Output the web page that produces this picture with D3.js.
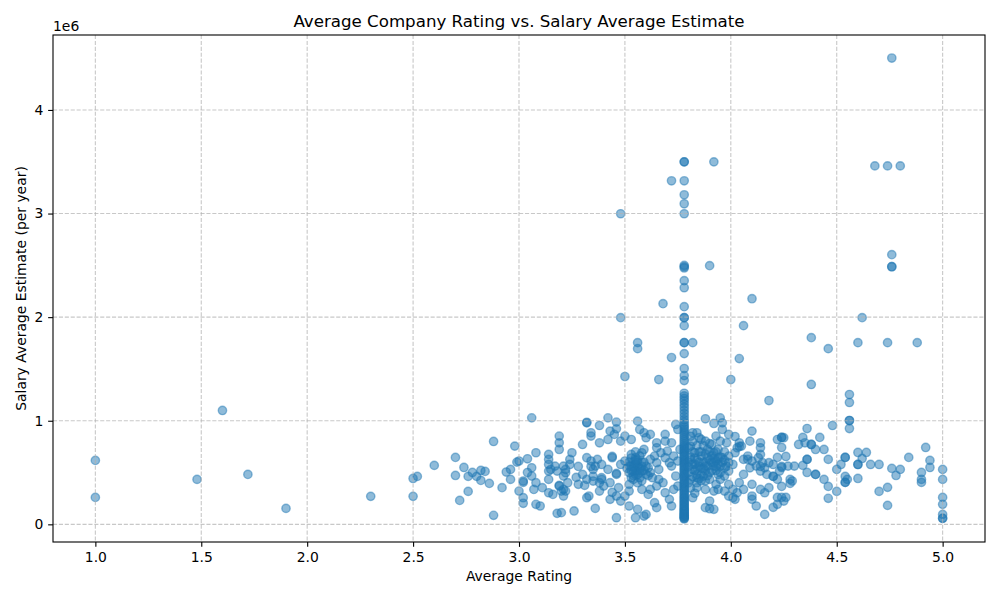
<!DOCTYPE html>
<html><head><meta charset="utf-8">
<script src="https://cdn.jsdelivr.net/npm/d3@7"></script>
<style>
body{margin:0;background:#fff;}
text{font-family:"DejaVu Sans",sans-serif;fill:#000;}
</style>
</head><body>
<svg id="chart" width="1000" height="600"></svg>
<script>
// ---- Data: [average rating, salary estimate in thousands per year] ----
const lowRatingPoints = [
[1.00,617],[1.00,260],[1.48,434],[1.60,1099],[1.72,482],[1.90,154],[2.30,270],[2.50,443],[2.52,463],[2.50,270],
[2.60,569],[2.70,646],[2.70,472],[2.72,231],[2.74,549],[2.76,463],[2.76,318],[2.78,501],[2.80,463],[2.82,520],
[2.82,424],[2.84,511],[2.86,395],[2.88,800],[2.88,87],[2.92,354],[2.94,505]
];
const earlyThreePoints = [
[2.96,530],[2.96,434],[2.98,755],[2.99,601],[3.00,611],[3.00,321],[3.02,418],[3.02,257],[3.02,203],[3.04,633],
[3.06,1028],[3.06,546],[3.06,466],[3.07,337],[3.08,691],[3.08,402],[3.08,193],[3.10,177],[3.11,354],[3.14,675],
[3.14,627],[3.14,578],[3.15,530],[3.17,562],[3.18,514],[3.14,514],[3.14,434],[3.14,305],[3.16,289],[3.18,106],
[3.19,376],[3.19,852],[3.19,787],[3.19,723],[3.20,321],[3.22,321],[3.21,562],[3.22,498],[3.02,405],[3.04,500]
];
const midRatingPoints = [
[3.32,980],[3.32,985],[3.38,954],[3.42,1028],[3.46,987],[3.56,996],[3.46,922],[3.34,884],[3.34,852],[3.38,787],
[3.43,900],[3.45,868],[3.48,803],[3.50,852],[3.53,819],[3.57,916],[3.59,884],[3.60,836],[3.62,868],[3.65,787],
[3.69,868],[3.69,803],[3.72,787],[3.74,964],[3.75,916],
[3.25,691],[3.24,627],[3.24,578],[3.22,530],[3.21,466],[3.19,370],[3.21,273],[3.20,113],
[3.30,771],[3.32,643],[3.34,611],[3.35,530],[3.36,562],[3.32,434],[3.33,273],[3.32,257],[3.26,129],[3.28,386],[3.30,482],
[3.39,578],[3.42,530],[3.44,643],[3.46,482],[3.39,450],[3.40,370],[3.38,321],[3.43,402],[3.47,354],[3.48,578],
[3.50,611],[3.52,562],[3.54,514],[3.53,675],[3.55,643],[3.58,691],[3.59,723],[3.56,562],[3.58,514],[3.60,482],
[3.61,546],[3.62,627],[3.64,659],[3.65,595],[3.66,530],[3.66,434],[3.68,402],[3.65,370],[3.62,337],[3.61,289],
[3.58,337],[3.56,402],[3.54,434],[3.52,386],[3.52,321],[3.50,273],[3.48,225],[3.46,273],[3.43,241],[3.52,177],
[3.56,145],[3.60,96],[3.59,80],[3.65,161],[3.64,209],[3.69,305],[3.71,241],[3.72,177],[3.73,337],[3.75,370],
[3.74,466],[3.72,562],[3.71,595],[3.69,643],[3.67,691],[3.65,739],[3.70,707],[3.73,659],[3.75,611],[3.76,723],
[3.38,402],[3.35,418],[3.23,402],[3.21,337],[3.46,64],[3.55,64],
[3.34,559],[3.35,463],[3.36,154],[3.44,308],[3.46,492],[3.42,819],[3.44,655],[3.39,434],[3.37,627],[3.31,376],
[3.28,559],[3.27,453],
[3.52,600],[3.53,560],[3.54,600],[3.55,520],[3.56,480],[3.57,450],[3.58,600],[3.55,700],[3.53,450],[3.57,540],
[3.60,560],[3.62,500],[3.63,450],[3.58,420],[3.54,470],[3.56,620],[3.59,520],[3.61,470],[3.52,500],[3.55,580],
[3.53,640],[3.57,660],[3.51,540],[3.56,520],
[3.54,560],[3.55,480],[3.56,600],[3.57,500],[3.58,560],[3.53,520],[3.55,620],[3.59,600]
];
const imputedRatingSalaries = [
52,58,65,72,80,88,96,105,115,125,135,145,155,168,180,192,205,218,230,245,258,270,285,300,315,330,345,360,375,390,
405,420,435,450,465,480,495,510,525,540,555,570,585,600,615,630,645,660,675,690,705,720,735,750,765,780,800,820,840,860,
880,900,920,940,960,985,1010,1040,1070,1100,1130,1160,1190,1215,1240,1265,
1388,1436,1504,1648,1754,1754,1918,1995,1995,2101,2284,2352,2475,2487,2500,2998,3094,3181,3316,3499,3499
];
const imputedRating = 3.78;
const upperRatingPoints = [
[3.88,1019],[3.92,974],[3.95,1028],[3.96,980],[3.96,916],[3.99,868],
[3.82,884],[3.84,884],[3.85,836],[3.88,803],[3.91,771],[3.93,852],[3.95,803],[3.98,787],
[4.04,787],[4.05,755],[4.09,803],[4.10,900],[4.14,787],[4.14,739],[4.14,675],[4.03,739],
[3.81,755],[3.83,691],[3.86,659],[3.89,723],[3.92,691],[3.94,723],[3.96,643],[3.99,659],[4.01,578],[3.99,514],
[3.97,466],[3.95,498],[3.92,562],[3.88,595],[3.85,562],[3.82,530],[3.81,434],[3.84,402],[3.87,466],[3.90,434],
[3.93,386],[3.95,434],[3.99,386],[4.01,337],[4.04,402],[4.06,482],[4.08,627],[4.10,611],[4.12,562],[4.14,514],
[4.16,546],[4.17,482],[4.18,354],[4.16,305],[4.14,337],[4.10,386],[4.10,273],[4.12,177],[4.16,96],[4.06,337],
[4.03,305],[4.01,257],[3.99,273],[3.97,321],[3.94,337],[3.92,321],[3.88,337],[3.84,354],[3.82,257],[3.90,225],
[3.88,161],[3.92,145],[3.90,151],[4.10,241],
[4.06,627],[4.08,659],[4.02,691],[3.99,595],[3.97,546],[3.93,611],[3.88,514],[3.84,482],[4.09,546],[4.13,643],
[4.15,595],[4.18,595],[4.04,752],[4.14,559],[4.02,241],[4.02,848],
[3.80,600],[3.81,650],[3.82,700],[3.83,580],[3.84,620],[3.85,700],[3.86,540],[3.87,600],[3.88,680],[3.89,560],
[3.90,620],[3.91,520],[3.92,640],[3.93,700],[3.94,580],[3.95,650],[3.80,500],[3.82,460],[3.83,520],[3.85,440],
[3.86,480],[3.88,420],[3.89,470],[3.91,600],[3.93,520],[3.95,560],[3.80,400],[3.81,350],[3.83,300],[3.80,740],
[3.82,800],[3.84,760],[3.86,820],[3.81,850],
[3.80,560],[3.81,620],[3.82,580],[3.83,640],[3.84,540],[3.85,600],[3.86,700],[3.87,540],[3.88,560],[3.89,640],
[3.90,700],[3.91,660],[3.92,600],[3.93,560],[3.94,640],[3.96,600],[3.97,700],[3.98,560],[3.84,450],[3.86,420],
[3.90,500],[3.94,480],[3.97,620],[3.87,760],[3.90,780]
];
const highRatingPoints = [
[4.25,225],[4.22,193],[4.27,562],[4.29,418],[4.23,514],[4.30,562],[4.35,787],[4.25,836],
[4.92,742],[4.94,617],[4.94,549],[5.00,530],[5.00,434],[5.00,260],[5.00,193],[5.00,96],[5.00,58],[5.00,58],
[4.90,501],[4.90,434],[4.90,405],[4.84,646],[4.80,530],[4.78,472],[4.76,540],[4.74,357],[4.74,183],[4.70,578],
[4.70,318],[4.66,578],[4.64,694],[4.60,694],[4.60,578],[4.60,578],[4.62,636],[4.60,443],[4.54,646],[4.54,646],
[4.54,463],[4.54,405],[4.54,405],[4.55,434],[4.52,578],[4.50,530],[4.50,318],[4.46,251],[4.46,366],[4.44,434],
[4.46,627],[4.44,723],[4.42,839],[4.40,482],[4.40,482],[4.36,925],[4.34,839],[4.38,771],[4.38,771],[4.40,723],
[4.36,627],[4.36,627],[4.32,771],[4.34,569],[4.36,501],[4.28,434],[4.28,395],[4.26,655],[4.24,839],[4.24,839],
[4.24,742],[4.22,819],[4.22,646],[4.24,560],[4.24,549],[4.20,578],[4.20,463],[4.20,463],[4.22,434],[4.24,366],
[4.22,260],[4.24,260],[4.26,260],[4.20,164]
];
const outlierPoints = [
[3.92,3499],[3.72,3316],[3.48,2998],[3.90,2497],[3.68,2130],[4.10,2178],[3.48,1995],[4.06,1918],[4.38,1802],
[3.56,1754],[3.56,1696],[3.82,1754],[3.72,1610],[4.04,1600],[3.50,1427],[3.66,1398],[4.00,1398],[4.38,1350],
[4.76,4501],[4.68,3460],[4.74,3460],[4.80,3460],[4.76,2603],[4.76,2487],[4.76,2487],[4.62,1995],[4.46,1696],
[4.60,1754],[4.74,1754],[4.88,1754],[4.56,1253],[4.56,1176],[4.56,1002],[4.56,1002],[4.56,925],[4.48,954],[4.18,1195]
];
const xTickValues = [1.0,1.5,2.0,2.5,3.0,3.5,4.0,4.5,5.0];
const yTickValues = [0,1000,2000,3000,4000];
const yTickLabels = ["0","1","2","3","4"];
const titleText = "Average Company Rating vs. Salary Average Estimate";
const xLabelText = "Average Rating";
const yLabelText = "Salary Average Estimate (per year)";
const offsetText = "1e6";

// ---- Build ----
const points = [].concat(
  lowRatingPoints, earlyThreePoints, midRatingPoints,
  imputedRatingSalaries.map(s => [imputedRating, s]),
  upperRatingPoints, highRatingPoints, outlierPoints
);

const L = 53, R = 985, T = 35, B = 542;
const svg = d3.select("#chart");
svg.append("rect").attr("width",1000).attr("height",600).attr("fill","#fff");

const xExt = d3.extent(points, d => d[0]);
const yExt = d3.extent(points, d => d[1]);
const xPad = (xExt[1]-xExt[0])*0.05, yPad = (yExt[1]-yExt[0])*0.05;
const x = d3.scaleLinear().domain([xExt[0]-xPad, xExt[1]+xPad]).range([L,R]);
const y = d3.scaleLinear().domain([yExt[0]-yPad, yExt[1]+yPad]).range([B,T]);

// points
svg.append("g").selectAll("circle").data(points).join("circle")
  .attr("cx", d => x(d[0])).attr("cy", d => y(d[1])).attr("r", 4.17)
  .attr("fill","#1f77b4").attr("fill-opacity",0.5)
  .attr("stroke","#1f77b4").attr("stroke-opacity",0.5).attr("stroke-width",1.39);

// grid
const grid = svg.append("g").attr("stroke","#b0b0b0").attr("stroke-opacity",0.7)
  .attr("stroke-width",1.1).attr("stroke-dasharray","4.1,1.8");
grid.selectAll(".gx").data(xTickValues).join("line")
  .attr("x1",d=>x(d)).attr("x2",d=>x(d)).attr("y1",T).attr("y2",B);
grid.selectAll(".gy").data(yTickValues).join("line")
  .attr("y1",d=>y(d)).attr("y2",d=>y(d)).attr("x1",L).attr("x2",R);

// axes
const xAxis = d3.axisBottom(x).tickValues(xTickValues).tickFormat(d3.format(".1f")).tickSize(4.86).tickPadding(4.86);
const yAxis = d3.axisLeft(y).tickValues(yTickValues).tickFormat((d,i)=>yTickLabels[i]).tickSize(4.86).tickPadding(4.86);
const gx = svg.append("g").attr("transform",`translate(0,${B})`).call(xAxis);
const gy = svg.append("g").attr("transform",`translate(${L},0)`).call(yAxis);
[gx,gy].forEach(g=>{
  g.select(".domain").remove();
  g.selectAll(".tick line").attr("stroke","#000").attr("stroke-width",1.1);
  g.selectAll(".tick text").attr("font-size","13.9px").attr("font-family","DejaVu Sans").attr("fill","#000");
});

svg.append("rect").attr("x",L).attr("y",T).attr("width",R-L).attr("height",B-T)
  .attr("fill","none").attr("stroke","#000").attr("stroke-width",1.1);

svg.append("text").attr("x",(L+R)/2).attr("y",26.7).attr("text-anchor","middle")
  .attr("font-size","16.67px").text(titleText);
svg.append("text").attr("x",(L+R)/2).attr("y",581).attr("text-anchor","middle")
  .attr("font-size","13.9px").text(xLabelText);
svg.append("text").attr("transform",`translate(26,${(T+B)/2}) rotate(-90)`).attr("text-anchor","middle")
  .attr("font-size","13.9px").text(yLabelText);
svg.append("text").attr("x",L).attr("y",31).attr("font-size","13.9px").text(offsetText);
</script>
</body></html>
